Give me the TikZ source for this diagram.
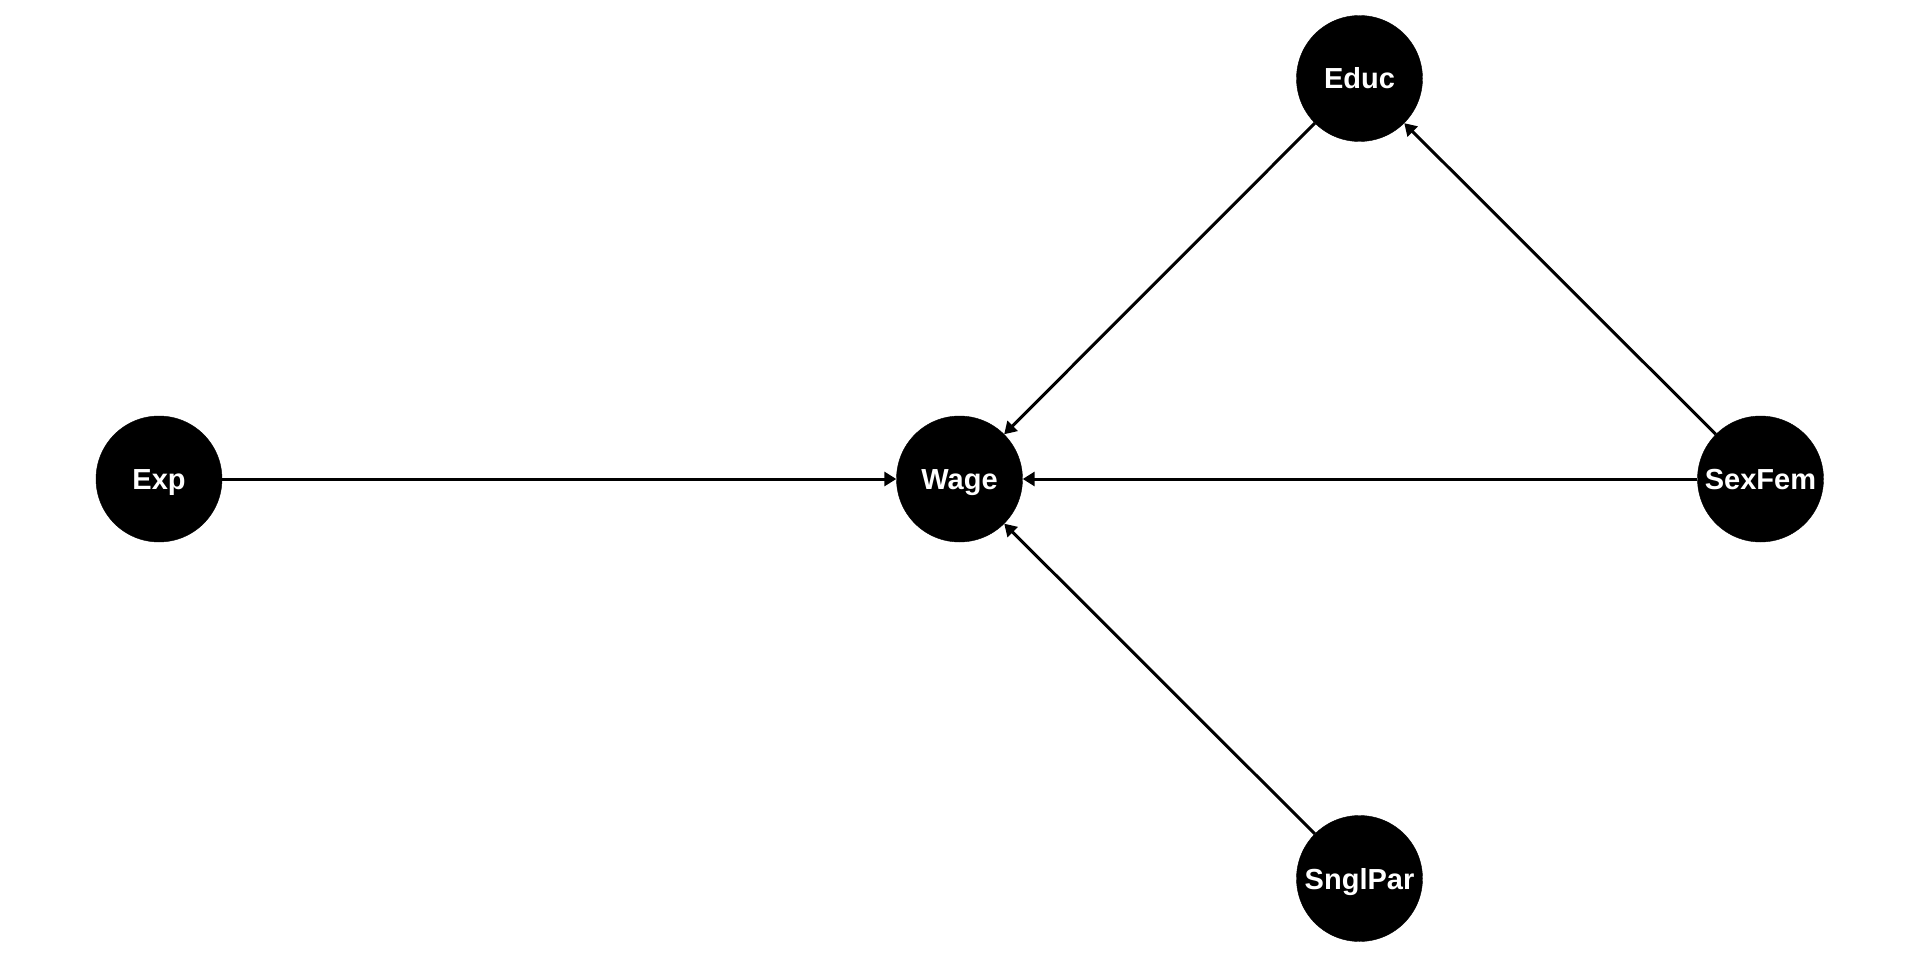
\documentclass[tikz,border=0pt]{standalone}
\usepackage{fontspec}
\setmainfont{Liberation Sans}
\usetikzlibrary{arrows.meta}
\begin{document}
\begin{tikzpicture}[x=1pt,y=-1pt,
  vnode/.style={circle, fill=black, draw=black, minimum size=126pt, inner sep=0pt, text=white, text height=21pt, text depth=0pt, font=\bfseries\fontsize{29}{29}\selectfont},
  edge/.style={line width=3pt, -{Triangle[length=12pt,width=14pt]}}]
\useasboundingbox (0,0) rectangle (1920,960);
\node[vnode] (exp) at (159,479) {Exp};
\node[vnode] (wage) at (959.5,479) {Wage};
\node[vnode] (educ) at (1359.5,78.5) {Educ};
\node[vnode] (sexfem) at (1760.5,479) {SexFem};
\node[vnode] (snglpar) at (1359.5,878.5) {SnglPar};
\draw[edge] (exp) -- (wage);
\draw[edge] (educ) -- (wage);
\draw[edge] (sexfem) -- (wage);
\draw[edge] (snglpar) -- (wage);
\draw[edge] (sexfem) -- (educ);
\end{tikzpicture}
\end{document}
